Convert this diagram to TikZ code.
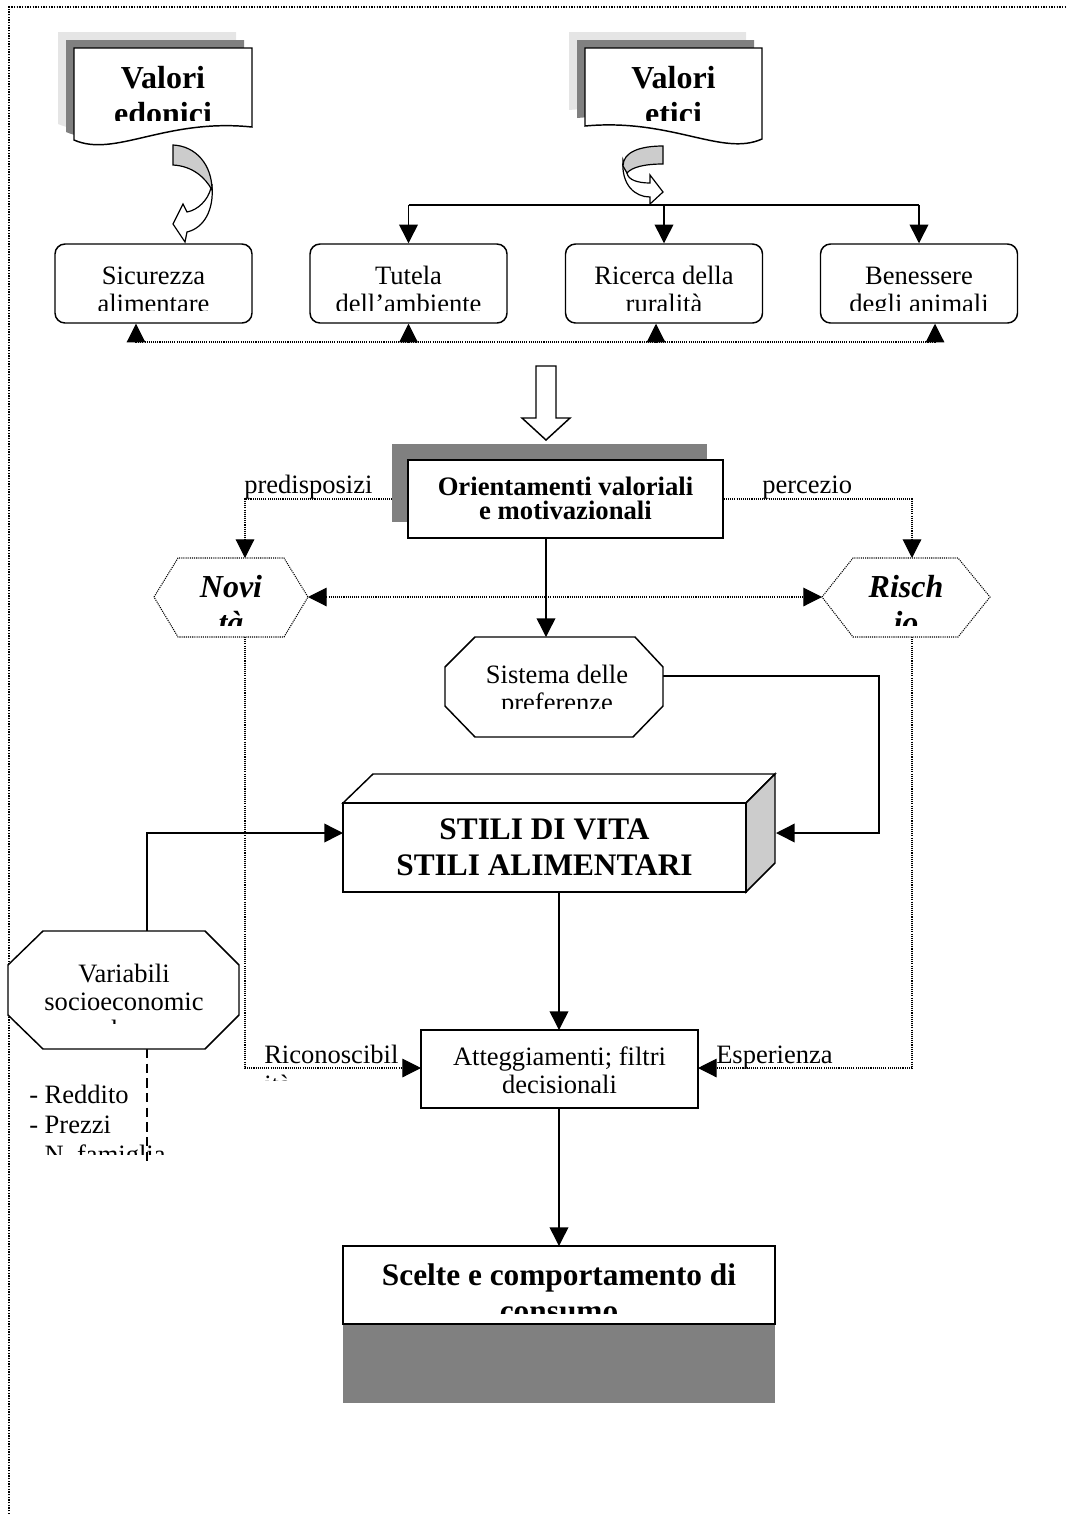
\documentclass[tikz,border=0pt]{standalone}
\usepackage[svgnames]{xcolor}
\usepackage{fontspec}
\setmainfont{Liberation Serif}
\usetikzlibrary{arrows.meta}
\tikzset{>={Triangle[length=14pt,width=14pt]}}
\tikzstyle{none}=[inner sep=0pt]
\tikzstyle{txt}=[inner sep=0pt,anchor=base,font=\fontsize{19.9}{21}\selectfont]
\tikzstyle{ltxt}=[txt,anchor=base west]
\tikzstyle{bigtxt}=[inner sep=0pt,anchor=base,font=\fontsize{23.5}{27}\selectfont\bfseries]
\tikzstyle{doctxt}=[inner sep=0pt,anchor=base,font=\fontsize{24}{27}\selectfont\bfseries]
\tikzstyle{midtxt}=[inner sep=0pt,anchor=base,font=\fontsize{20}{24}\selectfont\bfseries]
\tikzstyle{hextxt}=[inner sep=0pt,anchor=base,font=\fontsize{24}{27}\selectfont\bfseries\itshape]
\tikzstyle{outline}=[draw=Black,fill=White,line width=1.1pt]
\tikzstyle{rbox}=[outline,rounded corners=7.5pt,minimum width=147.75pt,minimum height=59.25pt]
\tikzstyle{simple}=[-,draw=Black,line width=1.1pt]
\tikzstyle{arrow}=[->,draw=Black,line width=1.1pt]
\tikzstyle{dots}=[-,draw=Black,line width=0.8pt,dash pattern=on 0.8pt off 0.8pt]
\tikzstyle{dotarrow}=[dots,->]
\tikzstyle{dotboth}=[dots,<->]
\tikzstyle{dashes}=[-,draw=Black,line width=1.1pt,dash pattern=on 7pt off 4pt]
\tikzstyle{frame}=[-,draw=Black,line width=1pt,dash pattern=on 1pt off 1pt]
\pgfdeclarelayer{edgelayer}
\pgfdeclarelayer{nodelayer}
\pgfsetlayers{edgelayer,nodelayer,main}

\begin{document}
\begin{tikzpicture}[x=0.75pt,y=-0.75pt]
	\useasboundingbox (0, 0) rectangle (1066, 1514);
	\begin{pgfonlayer}{nodelayer}
		% values (documents with shadows)
		\foreach \off/\col in {16/black!10, 8/Gray} {
			\fill [\col, shift={(-\off, -\off)}] (74, 48) -- (252, 48) -- (252, 127) .. controls (165, 118) and (115, 158) .. (74, 140) -- cycle;
			\fill [\col, shift={(-\off, -\off)}] (585, 48) -- (762, 48) -- (762, 139) .. controls (722, 157) and (672, 118) .. (585, 126) -- cycle;
		}
		\filldraw [style=outline] (74, 48) -- (252, 48) -- (252, 127) .. controls (165, 118) and (115, 158) .. (74, 140) -- cycle;
		\filldraw [style=outline] (585, 48) -- (762, 48) -- (762, 139) .. controls (722, 157) and (672, 118) .. (585, 126) -- cycle;
		\begin{scope}
			\clip (74, 48) rectangle (762, 120);
			\node [style=doctxt] (5) at (163, 88) {Valori};
			\node [style=doctxt] (6) at (163, 124) {edonici};
			\node [style=doctxt] (7) at (673.5, 88) {Valori};
			\node [style=doctxt] (8) at (673.5, 124) {etici};
		\end{scope}

		% curved block arrows
		\filldraw [style=outline, line width=0.9pt] (212, 186) .. controls (214, 210) and (204, 228) .. (187, 232) -- (185, 242) -- (173, 224) -- (183, 204) -- (187, 212) .. controls (198, 210) and (208, 200) .. (211, 188) -- cycle;
		\filldraw [style=outline, fill=black!20, line width=0.9pt] (173, 145) .. controls (196, 146) and (212, 165) .. (212, 190) .. controls (205, 177) and (192, 166) .. (173, 165) -- cycle;
		\filldraw [style=outline, line width=0.9pt] (623, 160) .. controls (621, 185) and (635, 197) .. (650, 197) -- (650, 204) -- (663, 192) -- (650, 175) -- (650, 183) .. controls (638, 183) and (628, 180) .. (627, 173) -- cycle;
		\filldraw [style=outline, fill=black!20, line width=0.9pt] (663, 146) .. controls (640, 146) and (623, 152) .. (623, 166) -- (627, 173) .. controls (632, 167) and (645, 164) .. (663, 164) -- cycle;

		% the four values boxes
		\foreach \n/\x/\a/\b in {0/153.5/Sicurezza/alimentare, 1/408.5/Tutela/dell’ambiente, 2/664/Ricerca della/ruralità, 3/919/Benessere/degli animali} {
			\node [style=rbox] (\n) at (\x, 283.5) {};
			\begin{scope}
				\clip (\x-95, 247) rectangle (\x+95, 310);
				\node [style=txt] (\n-a) at (\x, 284) {\a};
				\node [style=txt] (\n-b) at (\x, 312) {\b};
			\end{scope}
		}

		% hollow arrow
		\filldraw [style=outline] (536, 366) -- (556, 366) -- (556, 418) -- (570, 418) -- (546, 440) -- (522, 418) -- (536, 418) -- cycle;

		% orientamenti
		\fill [Gray] (392, 444) rectangle (707, 522);
		\node [style=outline, minimum width=236.25pt, minimum height=58.5pt] (4) at (565.5, 499) {};
		\node [style=midtxt] (9) at (565.5, 495) {Orientamenti valoriali};
		\node [style=midtxt] (10) at (565.5, 519) {e motivazionali};

		% novita, rischio
		\filldraw [style=dots, fill=White] (154, 597) -- (178, 558) -- (284, 558) -- (308, 597) -- (284, 637) -- (178, 637) -- cycle;
		\filldraw [style=dots, fill=White] (822, 597) -- (853, 558) -- (958, 558) -- (990, 597) -- (958, 637) -- (853, 637) -- cycle;
		\begin{scope}
			\clip (160, 560) rectangle (985, 625);
			\node [style=hextxt] (12) at (231, 597) {Novi};
			\node [style=hextxt] (13) at (231, 633) {tà};
			\node [style=hextxt] (15) at (906, 597) {Risch};
			\node [style=hextxt] (16) at (906, 633) {io};
		\end{scope}

		% sistema delle preferenze
		\filldraw [style=outline] (475, 637) -- (635, 637) -- (663, 667) -- (663, 706) -- (633, 737) -- (475, 737) -- (445, 706) -- (445, 667) -- cycle;
		\begin{scope}
			\clip (450, 640) rectangle (660, 708);
			\node [style=txt] (18) at (557, 683) {Sistema delle};
			\node [style=txt] (19) at (557, 711) {preferenze};
		\end{scope}

		% stili (box in 3d)
		\filldraw [style=outline] (343, 803) -- (373, 774) -- (775, 774) -- (746, 803) -- cycle;
		\filldraw [style=outline, fill=black!20] (746, 803) -- (775, 774) -- (775, 863) -- (746, 892) -- cycle;
		\node [style=outline, minimum width=302.25pt, minimum height=66.75pt] (20) at (544.5, 847.5) {};
		\node [style=bigtxt] (21) at (544.5, 839) {STILI DI VITA};
		\node [style=bigtxt] (22) at (544.5, 875) {STILI ALIMENTARI};

		% variabili
		\filldraw [style=outline] (43, 931) -- (205, 931) -- (239, 965) -- (239, 1015) -- (205, 1049) -- (43, 1049) -- (8, 1015) -- (8, 965) -- cycle;
		\begin{scope}
			\clip (12, 935) rectangle (236, 1023);
			\node [style=txt] (24) at (124, 982) {Variabili};
			\node [style=txt] (25) at (124, 1010) {socioeconomic};
			\node [style=txt] (26) at (124, 1038) {he};
		\end{scope}
		\node [style=ltxt] (33) at (29, 1103) {- Reddito};
		\node [style=ltxt] (34) at (29, 1133) {- Prezzi};
		\begin{scope}
			\clip (20, 1140) rectangle (200, 1154);
			\node [style=ltxt] (35) at (29, 1163) {- N. famiglia};
		\end{scope}

		% atteggiamenti
		\node [style=outline, minimum width=207.75pt, minimum height=58.5pt] (27) at (559.5, 1069) {};
		\node [style=txt] (28) at (559.5, 1065) {Atteggiamenti; filtri};
		\node [style=txt] (29) at (559.5, 1093) {decisionali};

		% scelte
		\fill [Gray] (343, 1324) rectangle (775, 1403);
		\node [style=outline, minimum width=324pt, minimum height=58.5pt] (30) at (559, 1285) {};
		\begin{scope}
			\clip (346, 1249) rectangle (772, 1313);
			\node [style=bigtxt] (31) at (559, 1285) {Scelte e comportamento di};
			\node [style=bigtxt] (32) at (559, 1321) {consumo};
		\end{scope}

		% labels on the dotted lines
		\node [style=ltxt] (36) at (244, 493) {predisposizi};
		\node [style=ltxt] (37) at (762, 493) {percezio};
		\node [style=ltxt] (38) at (264, 1063) {Riconoscibil};
		\begin{scope}
			\clip (260, 1070) rectangle (420, 1080);
			\node [style=ltxt] (39) at (264, 1093) {ità};
		\end{scope}
		\node [style=ltxt] (40) at (716, 1063) {Esperienza};

		% corner points
		\node [style=none] (41) at (408.5, 205) {};
		\node [style=none] (42) at (664, 205) {};
		\node [style=none] (43) at (919, 205) {};
		\node [style=none] (44) at (136, 342) {};
		\node [style=none] (45) at (408.5, 342) {};
		\node [style=none] (46) at (656, 342) {};
		\node [style=none] (47) at (935, 342) {};
		\node [style=none] (48) at (546, 538) {};
		\node [style=none] (49) at (546, 637) {};
		\node [style=none] (50) at (245, 499) {};
		\node [style=none] (51) at (245, 558) {};
		\node [style=none] (52) at (912, 499) {};
		\node [style=none] (53) at (912, 558) {};
		\node [style=none] (54) at (308, 597) {};
		\node [style=none] (55) at (822, 597) {};
		\node [style=none] (56) at (663, 676) {};
		\node [style=none] (57) at (879, 676) {};
		\node [style=none] (58) at (879, 833) {};
		\node [style=none] (59) at (776, 833) {};
		\node [style=none] (60) at (147, 931) {};
		\node [style=none] (61) at (147, 833) {};
		\node [style=none] (62) at (343, 833) {};
		\node [style=none] (63) at (147, 1049) {};
		\node [style=none] (64) at (147, 1165) {};
		\node [style=none] (65) at (559, 892) {};
		\node [style=none] (66) at (559, 1030) {};
		\node [style=none] (67) at (245, 637) {};
		\node [style=none] (68) at (245, 1068) {};
		\node [style=none] (69) at (421, 1068) {};
		\node [style=none] (70) at (912, 637) {};
		\node [style=none] (71) at (912, 1068) {};
		\node [style=none] (72) at (698, 1068) {};
		\node [style=none] (73) at (559, 1108) {};
		\node [style=none] (74) at (559, 1246) {};
	\end{pgfonlayer}
	\begin{pgfonlayer}{edgelayer}
		\draw [style=frame] (9, 1514) -- (9, 7) -- (1066, 7);

		\draw [style=simple] (41.center) to (43.center);
		\draw [style=arrow] (41.center) to (1.north);
		\draw [style=arrow] (42.center) to (2.north);
		\draw [style=arrow] (43.center) to (3.north);

		\draw [style=dots] (44.center) to (47.center);
		\draw [style=dotarrow] (44.center) to (44 |- 0.south);
		\draw [style=dotarrow] (45.center) to (45 |- 1.south);
		\draw [style=dotarrow] (46.center) to (46 |- 2.south);
		\draw [style=dotarrow] (47.center) to (47 |- 3.south);

		\draw [style=arrow] (48.center) to (49.center);
		\draw [style=dotarrow] (4.west) -- (50.center) -- (51.center);
		\draw [style=dotarrow] (4.east) -- (52.center) -- (53.center);
		\draw [style=dotboth] (54.center) to (55.center);

		\draw [style=arrow] (56.center) -- (57.center) -- (58.center) -- (59.center);
		\draw [style=arrow] (60.center) -- (61.center) -- (62.center);
		\draw [style=dashes] (63.center) to (64.center);
		\draw [style=arrow] (65.center) to (66.center);

		\draw [style=dotarrow] (67.center) -- (68.center) -- (69.center);
		\draw [style=dotarrow] (70.center) -- (71.center) -- (72.center);
		\draw [style=arrow] (73.center) to (74.center);
	\end{pgfonlayer}
\end{tikzpicture}
\end{document}
